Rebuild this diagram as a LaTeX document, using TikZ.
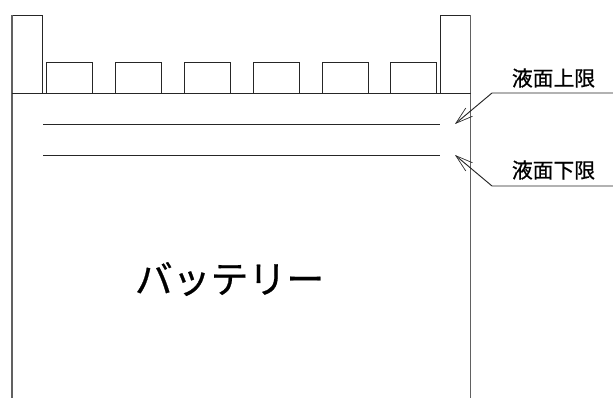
\documentclass[tikz,border=0pt]{standalone}
\usepackage{fontspec}
\setmainfont[FakeBold=0.6]{Noto Sans CJK JP}
\usetikzlibrary{arrows.meta}
\tikzset{
  wall/.style={draw=black!62,line width=1.1pt},
  part/.style={draw=black!85,line width=0.7pt},
  level/.style={draw=black!85,line width=0.7pt},
  leader/.style={draw=black!85,line width=0.7pt,-{Straight Barb[length=13pt,width=8pt,line width=0.5pt]}},
  smalllabel/.style={font=\fontsize{15.6pt}{15.6pt}\selectfont,inner sep=0pt,text=black},
  biglabel/.style={font=\fontsize{28.4pt}{28.4pt}\selectfont,inner sep=0pt,text=black},
}
\begin{document}
\begin{tikzpicture}[x=0.75pt,y=-0.75pt]
\useasboundingbox (0,0) rectangle (613,399);
% terminals and caps
\draw[part] (12,93) -- (12,15.5) -- (42.5,15.5) -- (42.5,93);
\draw[part] (440.5,93) -- (440.5,15.5) -- (470.5,15.5) -- (470.5,93);
\foreach \xa/\xb in {46.5/92,115/161,184/230,253/299,322/368,390.5/436.5}
  \draw[part] (\xa,93) -- (\xa,62) -- (\xb,62) -- (\xb,93);
% battery body
\draw[wall] (12,15.5) -- (12,398);
\draw[wall] (470.5,15.5) -- (470.5,398);
\draw[part] (12,93) -- (470.5,93);
% level lines
\coordinate (upA) at (43,124);
\coordinate (upB) at (440,124);
\coordinate (loA) at (43,155);
\coordinate (loB) at (440,155);
\draw[level] (upA) -- (upB);
\draw[level] (loA) -- (loB);
% labels
\node[smalllabel] (upper) at (553.5,78) {液面上限};
\node[smalllabel] (lower) at (553.5,170) {液面下限};
\node[biglabel] (battery) at (229.5,279) {バッテリー};
% leaders
\coordinate (upTip) at (455,124);
\coordinate (upKnee) at (492,93);
\coordinate (upEnd) at (613,93);
\coordinate (loTip) at (455,155);
\coordinate (loKnee) at (492,186);
\coordinate (loEnd) at (613,186);
\draw[leader] (upEnd) -- (upKnee) -- (upTip);
\draw[leader] (loEnd) -- (loKnee) -- (loTip);
\end{tikzpicture}
\end{document}
